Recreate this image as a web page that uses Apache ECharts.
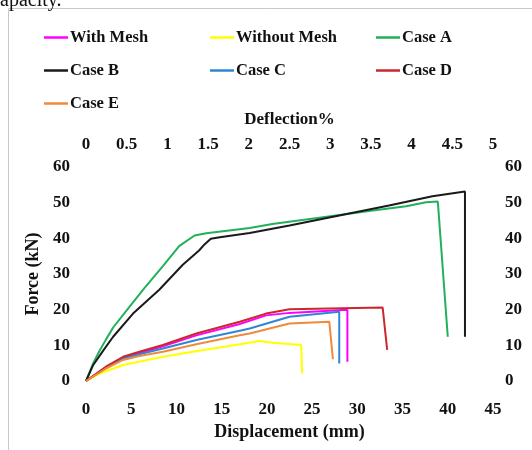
<!DOCTYPE html>
<html lang="en">
<head>
    <meta charset="UTF-8">
    <title>Force - Displacement</title>
    <script src="https://cdn.jsdelivr.net/npm/echarts@6/dist/echarts.min.js"></script>
    <style>
        body { margin: 0; background: #fff; }
    </style>
</head>
<body>
    <div id="main" style="width:532px; height: 450px;"></div>
    <script>
        // [displacement mm, force kN]
        var withMesh = [[0,0],[2.2,3.8],[4.1,6.5],[5.9,7.8],[8.5,9.7],[12.2,12.8],[17,16.0],[19.9,18.4],[22.5,19.1],[28.9,20.0],[28.9,5.4]];
        var withoutMesh = [[0,0],[1.5,2.1],[4.1,4.5],[8.5,6.8],[13,8.7],[17,10.3],[19.2,11.2],[20.6,10.7],[23.8,10.1],[23.9,2.1]];
        var caseA = [[0,0],[0.8,5.0],[1.5,8.5],[2.2,11.6],[3.0,15.0],[4.8,20.8],[6.5,26.2],[8.5,32.2],[10.3,37.8],[12.0,40.8],[13.3,41.4],[18.1,42.9],[20.6,44.0],[26.2,45.9],[31.7,47.8],[35.4,49.0],[37.6,50.1],[38.9,50.3],[40.0,12.4]];
        var caseB = [[0,0],[0.8,4.5],[1.9,8.5],[3.0,12.4],[5.2,18.9],[8.1,25.6],[10.7,32.6],[12.5,36.6],[13.1,38.3],[13.8,39.9],[14.8,40.3],[18.1,41.5],[22.5,43.6],[28.0,46.4],[33.5,49.2],[38.3,51.8],[41.9,53.1],[41.9,12.4]];
        var caseC = [[0,0],[2.2,3.6],[4.1,6.3],[5.9,7.5],[8.5,9.1],[12.2,11.5],[17,14.1],[18.1,14.7],[22.5,18.0],[28.0,19.4],[28.0,4.9]];
        var caseD = [[0,0],[2.2,4.0],[4.1,6.8],[5.9,8.2],[8.5,10.1],[12.2,13.3],[17,16.6],[19.9,18.9],[22.5,20.1],[32.8,20.6],[33.3,8.7]];
        var caseE = [[0,0],[2.2,3.5],[4.1,5.9],[5.9,7.0],[8.5,8.2],[12.2,10.3],[17,12.8],[18.1,13.3],[22.5,16.1],[26.9,16.6],[27.3,6.1]];

        var names = ['With Mesh', 'Without Mesh', 'Case A', 'Case B', 'Case C', 'Case D', 'Case E'];
        var colors = ['#ff00ff', '#ffff00', '#1fb25a', '#1a1a1a', '#2e86d4', '#c8282e', '#f08a3a'];
        var seriesData = [withMesh, withoutMesh, caseA, caseB, caseC, caseD, caseE];

        var serif = 'Liberation Serif, Times New Roman, serif';
        var labelStyle = {fontFamily: serif, fontWeight: 'bold', fontSize: 17, color: '#111'};

        function legendCol(left, data){
            return {
                left: left, top: 29, padding: 0, orient: 'vertical', itemGap: 16,
                icon: 'rect', itemWidth: 24, itemHeight: 2.5,
                data: data,
                textStyle: {fontFamily: serif, fontWeight: 'bold', fontSize: 16.5, color: '#111', padding: [0,0,0,-3]}
            };
        }

        var series = [];
        for (var i = 0; i < names.length; i++) {
            series.push({
                name: names[i],
                type: 'line',
                data: seriesData[i],
                showSymbol: false,
                symbol: 'none',
                lineStyle: {width: 2, color: colors[i]},
                itemStyle: {color: colors[i]}
            });
        }

        var option = {
            animation: false,
            graphic: [
                {type: 'rect', shape: {x: 8.5, y: 8.5, width: 600, height: 600}, style: {fill: 'none', stroke: '#c8c8c8', lineWidth: 1}},
                {type: 'text', left: 0, top: -9, style: {text: 'apacity.', font: '20px Liberation Serif', fill: '#111'}}
            ],
            legend: [
                legendCol(44, ['With Mesh', 'Case B', 'Case E']),
                legendCol(210, ['Without Mesh', 'Case C']),
                legendCol(376, ['Case A', 'Case D'])
            ],
            grid: {left: 86, right: 39, top: 167, bottom: 69},
            xAxis: [
                {
                    type: 'value', min: 0, max: 45, interval: 5, position: 'bottom',
                    name: 'Displacement (mm)', nameLocation: 'middle', nameGap: 42,
                    nameTextStyle: {fontFamily: serif, fontWeight: 'bold', fontSize: 18, color: '#111'},
                    axisLine: {show: false}, axisTick: {show: false}, splitLine: {show: false},
                    axisLabel: Object.assign({margin: 20}, labelStyle)
                },
                {
                    type: 'value', min: 0, max: 5, interval: 0.5, position: 'top',
                    name: 'Deflection%', nameLocation: 'middle', nameGap: 39,
                    nameTextStyle: {fontFamily: serif, fontWeight: 'bold', fontSize: 17, color: '#111'},
                    axisLine: {show: false}, axisTick: {show: false}, splitLine: {show: false},
                    axisLabel: Object.assign({margin: 14}, labelStyle)
                }
            ],
            yAxis: [
                {
                    type: 'value', min: 0, max: 60, interval: 10, position: 'left',
                    name: 'Force (kN)', nameLocation: 'middle', nameGap: 42,
                    nameTextStyle: {fontFamily: serif, fontWeight: 'bold', fontSize: 18, color: '#111'},
                    axisLine: {show: false}, axisTick: {show: false}, splitLine: {show: false},
                    axisLabel: Object.assign({margin: 16}, labelStyle)
                },
                {
                    type: 'value', min: 0, max: 60, interval: 10, position: 'right',
                    axisLine: {show: false}, axisTick: {show: false}, splitLine: {show: false},
                    axisLabel: Object.assign({margin: 12}, labelStyle)
                }
            ],
            series: series
        };
        echarts.init(document.getElementById('main')).setOption(option);
    </script>
</body>
</html>
